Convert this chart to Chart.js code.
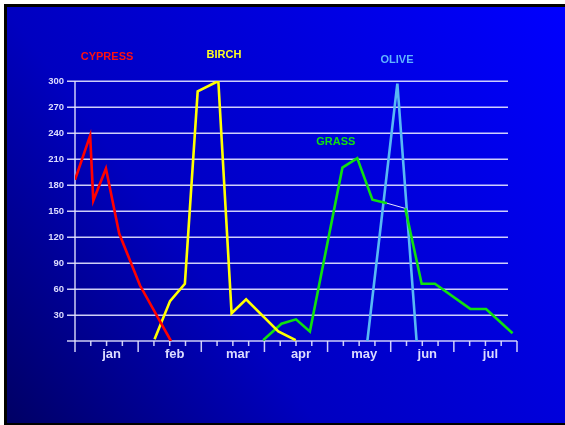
<!DOCTYPE html>
<html>
<head>
<meta charset="utf-8">
<script src="https://cdn.jsdelivr.net/npm/chart.js@4"></script>
<style>
  html, body { margin: 0; padding: 0; background: #ffffff; }
  canvas { display: block; }
</style>
</head>
<body>
<canvas id="pollen" width="565" height="425"></canvas>
<script>
// Month names along the bottom axis (one unit of x = one month)
const monthLabels = ['jan', 'feb', 'mar', 'apr', 'may', 'jun', 'jul'];
const yMax = 300;
const yStep = 30;

// Pollen counts per taxon: x = months since 1 January, y = count
const cypressX = [0, 0.24, 0.29, 0.49, 0.70, 1.03, 1.52];
const cypressY = [186, 237, 162, 199, 124, 64, 0];

const birchX = [1.26, 1.505, 1.74, 1.943, 2.27, 2.48, 2.71, 3.22, 3.495];
const birchY = [2, 46, 66, 288, 300, 32, 48, 11, 1];

const grassX = [2.98, 3.27, 3.50, 3.72, 4.235, 4.47, 4.71, 4.94, 5.23, 5.49, 5.70, 6.26, 6.51, 6.93];
const grassY = [1, 20, 25, 11, 200, 211, 163, 159, 153, 66, 66, 37, 37, 9];

const oliveX = [4.63, 5.105, 5.41];
const oliveY = [0, 297, 0];

const toPoints = (xs, ys) => xs.map((x, i) => ({ x: x, y: ys[i] }));

const inkColor = '#dcdcff';
const gridColor = 'rgba(228, 228, 255, 0.9)';

// Gradient backdrop with a dark frame on the top, left and bottom
const backdrop = {
  id: 'backdrop',
  beforeDraw(chart) {
    const { ctx, width, height } = chart;
    ctx.save();
    ctx.fillStyle = '#ffffff';
    ctx.fillRect(0, 0, width, height);
    ctx.fillStyle = '#000000';
    ctx.fillRect(4, 4, width - 4, height - 4);
    const g = ctx.createLinearGradient(0, height, width, 0);
    g.addColorStop(0, '#000062');
    g.addColorStop(0.36, '#0000c0');
    g.addColorStop(1, '#0000ff');
    ctx.fillStyle = g;
    ctx.fillRect(7, 7, width - 7, height - 9);
    ctx.restore();
  }
};

// Horizontal rules, axis lines and month/week tick marks
const axesPainter = {
  id: 'axesPainter',
  beforeDatasetsDraw(chart) {
    const { ctx, chartArea } = chart;
    const xs = chart.scales.x;
    const ys = chart.scales.y;
    const left = chartArea.left, right = chartArea.right;
    ctx.save();
    ctx.strokeStyle = gridColor;
    ctx.lineWidth = 1.5;
    ys.ticks.forEach(t => {
      if (t.value === 0) return;
      const y = Math.round(ys.getPixelForValue(t.value)) + 0.25;
      ctx.beginPath();
      ctx.moveTo(left - 8, y);
      ctx.lineTo(right - 9, y);
      ctx.stroke();
    });
    // baseline
    const y0 = ys.getPixelForValue(0);
    ctx.beginPath();
    ctx.moveTo(left - 8, y0);
    ctx.lineTo(right, y0);
    ctx.stroke();
    // vertical axis
    ctx.beginPath();
    ctx.moveTo(left, ys.getPixelForValue(yMax));
    ctx.lineTo(left, y0);
    ctx.stroke();
    // tick marks: long at month boundaries, short at quarter months
    xs.ticks.forEach(t => {
      const x = xs.getPixelForValue(t.value);
      const major = Math.abs(t.value - Math.round(t.value)) < 1e-6;
      ctx.beginPath();
      ctx.moveTo(x, y0);
      ctx.lineTo(x, y0 + (major ? 11 : 5));
      ctx.stroke();
    });
    ctx.restore();
  }
};

// Taxon names written beside their curves (positions in axis units)
const seriesNames = {
  id: 'seriesNames',
  afterDatasetsDraw(chart, args, opts) {
    const { ctx } = chart;
    const xs = chart.scales.x;
    const ys = chart.scales.y;
    ctx.save();
    ctx.font = 'bold 11px "Liberation Sans", Arial, sans-serif';
    ctx.textAlign = 'center';
    ctx.textBaseline = 'middle';
    opts.items.forEach(it => {
      ctx.fillStyle = it.color;
      ctx.fillText(it.text, xs.getPixelForValue(it.x), ys.getPixelForValue(it.y));
    });
    ctx.restore();
  }
};

const lineStyle = { borderWidth: 2.6, pointRadius: 0, tension: 0, fill: false };

new Chart(document.getElementById('pollen'), {
  type: 'line',
  data: {
    datasets: [
      Object.assign({ label: 'CYPRESS', data: toPoints(cypressX, cypressY), borderColor: '#ff0000' }, lineStyle),
      Object.assign({ label: 'BIRCH', data: toPoints(birchX, birchY), borderColor: '#ffff00' }, lineStyle),
      Object.assign({
        label: 'GRASS', data: toPoints(grassX, grassY), borderColor: '#10e010',
        segment: {
          borderColor: c => (c.p0DataIndex === 7 ? '#e6e6ff' : undefined),
          borderWidth: c => (c.p0DataIndex === 7 ? 1 : undefined)
        }
      }, lineStyle),
      Object.assign({ label: 'OLIVE', data: toPoints(oliveX, oliveY), borderColor: '#58b8f4' }, lineStyle)
    ]
  },
  options: {
    responsive: false,
    animation: false,
    layout: { padding: { top: 81, right: 48, bottom: 0, left: 0 } },
    plugins: {
      legend: { display: false },
      tooltip: { enabled: false },
      seriesNames: {
        items: [
          { text: 'CYPRESS', x: 0.507, y: 327.5, color: '#ff1010' },
          { text: 'BIRCH', x: 2.36, y: 330, color: '#ffff20' },
          { text: 'OLIVE', x: 5.10, y: 324, color: '#60b4ff' },
          { text: 'GRASS', x: 4.13, y: 229.5, color: '#10e010' }
        ]
      }
    },
    scales: {
      x: {
        type: 'linear',
        min: 0,
        max: monthLabels.length,
        afterBuildTicks: s => {
          const t = [];
          for (let i = 0; i <= monthLabels.length * 4; i++) t.push({ value: i / 4 });
          s.ticks = t;
        },
        afterFit: s => { s.height = 84; },
        grid: { display: false, drawTicks: false },
        border: { display: false },
        ticks: {
          autoSkip: false,
          maxRotation: 0,
          padding: 6,
          labelOffset: 5,
          color: inkColor,
          font: { family: '"Liberation Sans", Arial, sans-serif', size: 13, weight: 'bold' },
          callback: v => (v % 1 === 0.5 ? monthLabels[Math.floor(v)] : '')
        }
      },
      y: {
        min: 0,
        max: yMax,
        afterFit: s => { s.width = 75; },
        grid: { display: false, drawTicks: false },
        border: { display: false },
        ticks: {
          stepSize: yStep,
          padding: 11,
          color: inkColor,
          font: { family: '"Liberation Sans", Arial, sans-serif', size: 9.5, weight: 'bold' },
          callback: v => (v === 0 ? '' : v)
        }
      }
    }
  },
  plugins: [backdrop, axesPainter, seriesNames]
});
</script>
</body>
</html>
